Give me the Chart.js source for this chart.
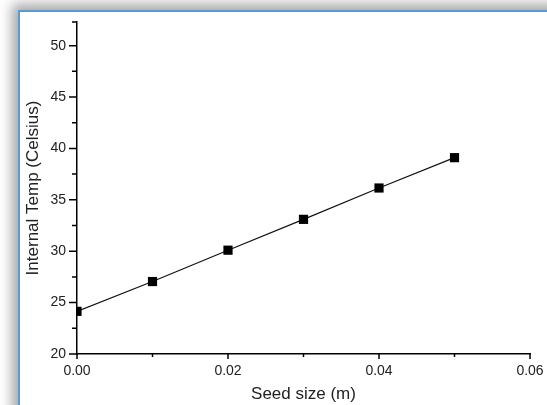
<!DOCTYPE html>
<html><head><meta charset="utf-8">
<script src="https://cdn.jsdelivr.net/npm/chart.js@4/dist/chart.umd.min.js"></script>
<style>
html,body{margin:0;padding:0;background:#fff;}
#wrap{position:relative;width:547px;height:405px;overflow:hidden;background:#fff;}
#frame{position:absolute;left:18px;top:10px;width:620px;height:520px;background:#fff;border-left:2px solid #5b9bd5;border-top:2px solid #5b9bd5;box-shadow:-3px -3px 12px 3px rgba(0,0,0,0.35);}
canvas{position:absolute;left:0;top:0;}
</style></head>
<body>
<div id="wrap"><div id="frame"></div><canvas id="c" width="547" height="405"></canvas></div>
<script>
const seedSize = [0, 0.01, 0.02, 0.03, 0.04, 0.05];
const internalTemp = [24.15, 27.05, 30.1, 33.1, 36.15, 39.1];
const xTickLabels = [0, 0.02, 0.04, 0.06];
const xMinorTicks = [0.01, 0.03, 0.05];
const yTickLabels = [20, 25, 30, 35, 40, 45, 50];
const yMinorTicks = [22.5, 27.5, 32.5, 37.5, 42.5, 47.5, 52.3];

const tickMarks = {
  id: 'tickMarks',
  afterDraw(chart) {
    const {ctx, scales: {x, y}} = chart;
    const L = x.left, B = y.bottom;
    ctx.save();
    ctx.strokeStyle = '#000';
    ctx.lineWidth = 1.5;
    ctx.beginPath();
    yTickLabels.forEach(v => { const p = y.getPixelForValue(v); ctx.moveTo(L, p); ctx.lineTo(L - 8, p); });
    yMinorTicks.forEach(v => { const p = y.getPixelForValue(v); ctx.moveTo(L, p); ctx.lineTo(L - 5, p); });
    xTickLabels.forEach(v => { const p = x.getPixelForValue(v); ctx.moveTo(p, B); ctx.lineTo(p, B + 5); });
    xMinorTicks.forEach(v => { const p = x.getPixelForValue(v); ctx.moveTo(p, B); ctx.lineTo(p, B + 3); });
    ctx.stroke();
    ctx.restore();
  }
};

const textColor = '#222';
new Chart(document.getElementById('c'), {
  type: 'line',
  data: {
    datasets: [{
      data: seedSize.map((s, i) => ({x: s, y: internalTemp[i]})),
      borderColor: '#111',
      borderWidth: 1.2,
      backgroundColor: '#000',
      pointStyle: 'rect',
      pointRadius: 6.5,
      pointBorderWidth: 0,
      pointBackgroundColor: '#000',
      tension: 0
    }]
  },
  options: {
    responsive: false,
    animation: false,
    events: [],
    layout: {padding: {left: 0, top: 22, right: 17, bottom: 0}},
    plugins: {legend: {display: false}, tooltip: {enabled: false}},
    scales: {
      x: {
        type: 'linear', min: 0, max: 0.06,
        afterBuildTicks: s => { s.ticks = xTickLabels.map(v => ({value: v})); },
        afterFit: s => { s.height = 51; s.paddingLeft = 0; s.paddingRight = 0; },
        ticks: {callback: v => Number(v).toFixed(2), font: {family: 'Arial', size: 14}, color: textColor, padding: 9, maxRotation: 0, autoSkip: false},
        grid: {display: false, drawTicks: false},
        border: {display: true, color: '#000', width: 1.5},
        title: {display: true, text: 'Seed size (m)', font: {family: 'Arial', size: 17}, color: textColor, padding: {top: 0, bottom: 0}}
      },
      y: {
        type: 'linear', min: 20, max: 52.3,
        afterBuildTicks: s => { s.ticks = yTickLabels.map(v => ({value: v})); },
        afterFit: s => { s.width = 77; s.paddingTop = 0; s.paddingBottom = 0; },
        ticks: {callback: v => String(v), font: {family: 'Arial', size: 14}, color: textColor, padding: 11, autoSkip: false},
        grid: {display: false, drawTicks: false},
        border: {display: true, color: '#000', width: 1.5},
        title: {display: true, text: 'Internal Temp (Celsius)', font: {family: 'Arial', size: 17}, color: textColor, padding: {top: 22.8, bottom: 0}}
      }
    }
  },
  plugins: [tickMarks]
});
</script>
</body></html>
